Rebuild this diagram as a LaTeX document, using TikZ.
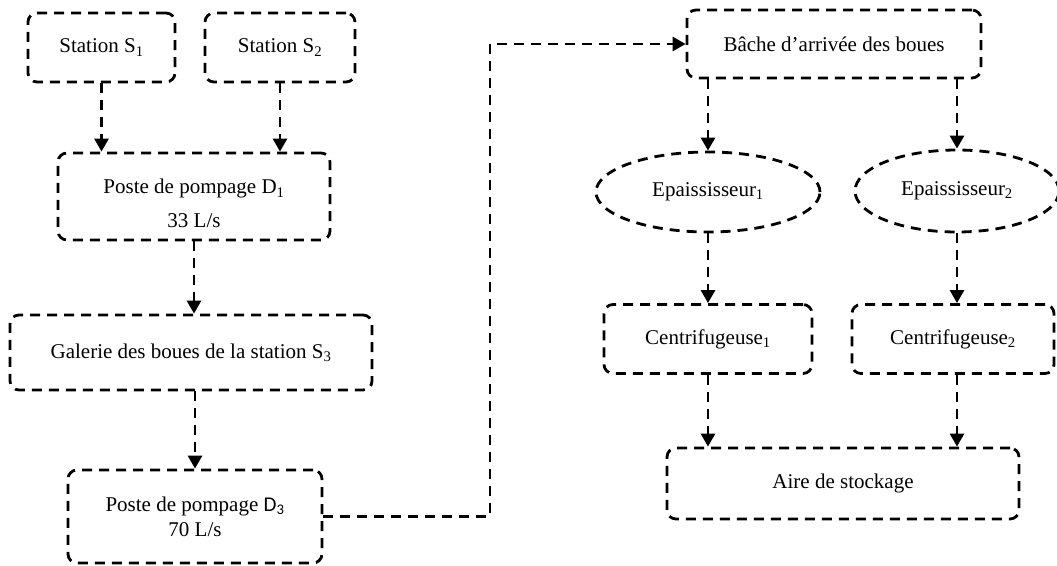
\documentclass[tikz,border=0pt]{standalone}
\usepackage{fontspec}
\setmainfont{Liberation Serif}
\newfontfamily\carlito{Carlito}
\usetikzlibrary{arrows.meta,shapes.geometric}
\tikzset{
  dsh/.style={line width=2.8pt, dash pattern=on 10pt off 7pt},
  box/.style={dsh, draw, rounded corners=9pt, inner sep=0pt, align=center,
    font=\fontsize{21}{25}\selectfont},
  ell/.style={dsh, draw, ellipse, inner sep=0pt, align=center,
    font=\fontsize{21}{25}\selectfont},
  arr/.style={dsh, -{Triangle[width=14pt,length=13pt]}}
}
\begin{document}
\begin{tikzpicture}[x=1pt,y=-1pt]
\useasboundingbox (0,0) rectangle (1057,565);
\node[box, minimum width=147pt, minimum height=69pt] (S1) at (101.5,47.5) {Station S\textsubscript{1}};
\node[box, minimum width=150pt, minimum height=69pt] (S2) at (280,47.5) {Station S\textsubscript{2}};
\node[box, minimum width=272pt, minimum height=87pt] (D1) at (194,196.5) {\rule{0pt}{29pt}Poste de pompage D\textsubscript{1}\\[9pt]33 L/s};
\node[box, minimum width=362pt, minimum height=75pt] (Gal) at (191,352.5) {Galerie des boues de la station S\textsubscript{3}};
\node[box, minimum width=254pt, minimum height=93pt] (D3) at (195,516.5) {Poste de pompage {\carlito D\textsubscript{3}}\\70 L/s};
\node[box, minimum width=294pt, minimum height=68pt] (Bache) at (834,44) {Bâche d’arrivée des boues};
\node[ell, minimum width=224pt, minimum height=80pt] (Ep1) at (708,192) {Epaississeur\textsubscript{1}};
\node[ell, minimum width=204pt, minimum height=82pt] (Ep2) at (957,191) {Epaississeur\textsubscript{2}};
\node[box, minimum width=208pt, minimum height=69pt] (C1) at (708,339) {Centrifugeuse\textsubscript{1}};
\node[box, minimum width=202pt, minimum height=69pt] (C2) at (953,339) {Centrifugeuse\textsubscript{2}};
\node[box, minimum width=352pt, minimum height=71pt] (Aire) at (843,483.5) {Aire de stockage};
\coordinate (bend) at (490,44);

\draw[arr] (S1.south) -- (S1.south |- D1.north);
\draw[arr] (S2.south) -- (S2.south |- D1.north);
\draw[arr] (D1.south) -- (D1.south |- Gal.north);
\draw[arr] (D3 |- Gal.south) -- (D3.north);
\draw[arr] (D3.east) -| (bend) -- (Bache.west);
\draw[arr] (Ep1 |- Bache.south) -- (Ep1.north);
\draw[arr] (Ep2 |- Bache.south) -- (Ep2.north);
\draw[arr] (Ep1.south) -- (Ep1 |- C1.north);
\draw[arr] (Ep2.south) -- (Ep2 |- C2.north);
\draw[arr] (Ep1 |- C1.south) -- (Ep1 |- Aire.north);
\draw[arr] (Ep2 |- C2.south) -- (Ep2 |- Aire.north);
\end{tikzpicture}
\end{document}
